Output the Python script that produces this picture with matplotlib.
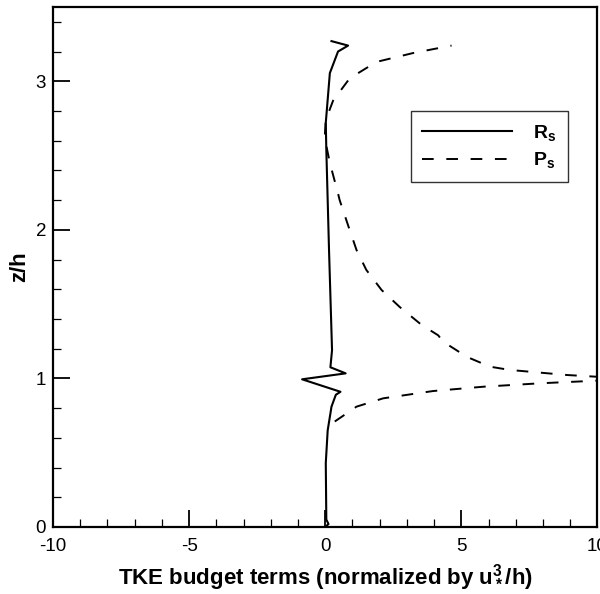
import matplotlib
matplotlib.use("Agg")
import matplotlib.pyplot as plt
from matplotlib.ticker import MultipleLocator

plt.rcParams["font.family"] = ["Liberation Sans", "DejaVu Sans"]
plt.rcParams["mathtext.fontset"] = "custom"
plt.rcParams["mathtext.rm"] = "Liberation Sans:bold"
plt.rcParams["mathtext.it"] = "Liberation Sans:bold"
plt.rcParams["mathtext.bf"] = "Liberation Sans:bold"

# Shear-layer TKE budget profiles: residual R_s and production P_s vs height z/h
rs_x = [0.0, 0.12, 0.04, 0.02, 0.09, 0.23, 0.39, 0.56, -0.85, 0.75, 0.19,
        0.25, 0.14, 0.04, 0.02, 0.17, 0.47, 0.84, 0.23]
rs_z = [0.0, 0.02, 0.05, 0.43, 0.65, 0.81, 0.89, 0.91, 0.994, 1.034, 1.075,
        1.19, 1.86, 2.54, 2.72, 3.055, 3.2, 3.24, 3.27]

ps_x = [0.35, 1.15, 2.13, 3.96, 5.8, 7.88, 10.0, 11.0, 10.0, 8.87, 6.78,
        6.05, 5.19, 4.82, 4.33, 4.15, 3.54, 2.74, 2.07, 1.51, 1.15, 0.84,
        0.53, 0.47, 0.17, -0.02, 0.02, 0.29, 0.9, 1.88, 3.23, 4.64]
ps_z = [0.71, 0.81, 0.866, 0.915, 0.944, 0.967, 0.985, 0.998, 1.011, 1.023,
        1.057, 1.079, 1.146, 1.19, 1.247, 1.29, 1.36, 1.48, 1.595, 1.73,
        1.864, 2.03, 2.2, 2.245, 2.45, 2.62, 2.74, 2.87, 3.02, 3.13, 3.19, 3.24]

x_ticks = [-10, -5, 0, 5, 10]
y_ticks = [0, 1, 2, 3]

fig = plt.figure(figsize=(6.0, 5.94), dpi=100)
ax = fig.add_axes([0.0883, 0.1128, 0.9075, 0.8755])

ax.plot(rs_x, rs_z, color="black", lw=1.5, ls="-", label=r"R$_s$")
ax.plot(ps_x, ps_z, color="black", lw=1.4, ls=(0, (6, 6.5)), label=r"P$_s$")

ax.set_xlim(-10, 10)
ax.set_ylim(0, 3.5)
ax.set_xticks(x_ticks)
ax.set_yticks(y_ticks)
ax.set_xticklabels([str(v) for v in x_ticks])
ax.set_yticklabels([str(v) for v in y_ticks])
ax.xaxis.set_minor_locator(MultipleLocator(1))
ax.yaxis.set_minor_locator(MultipleLocator(0.2))
ax.tick_params(which="both", direction="in", top=False, right=False,
               labelsize=13.5, color="black")
ax.tick_params(which="major", length=12, width=1.3, pad=5)
ax.tick_params(axis="x", which="major", pad=8)
ax.tick_params(which="minor", length=6, width=0.9)
for s in ax.spines.values():
    s.set_linewidth(1.6)

ax.set_xlabel(r"TKE budget terms (normalized by u$_*^3$/h)",
              fontsize=16, fontweight="bold", labelpad=5)
ax.set_ylabel("z/h", fontsize=16, fontweight="bold", labelpad=4)

leg = ax.legend(loc="upper left", bbox_to_anchor=(0.657, 0.80),
                frameon=True, fancybox=False, edgecolor="black",
                handlelength=4.6, handletextpad=1.1,
                borderpad=0.6, labelspacing=0.4, borderaxespad=0.0,
                prop={"weight": "bold", "size": 14})
leg.get_frame().set_linewidth(1.0)

fig.savefig("out.png", dpi=100)
